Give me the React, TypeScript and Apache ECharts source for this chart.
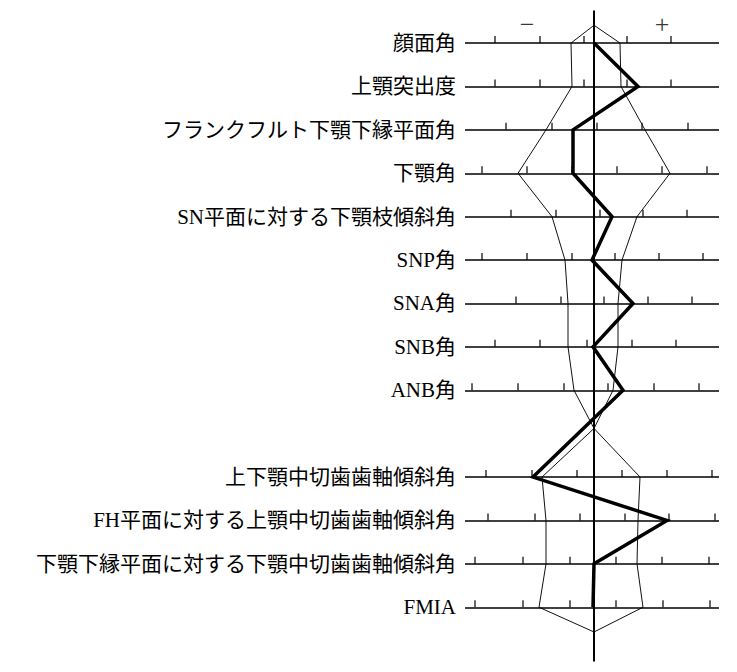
import { useEffect, useRef } from 'react'
import * as echarts from 'echarts'

// variables, top to bottom (one empty slot between ANB角 and 上下顎中切歯歯軸傾斜角)
const LABELS = [
  '顔面角',
  '上顎突出度',
  'フランクフルト下顎下縁平面角',
  '下顎角',
  'SN平面に対する下顎枝傾斜角',
  'SNP角',
  'SNA角',
  'SNB角',
  'ANB角',
  '上下顎中切歯歯軸傾斜角',
  'FH平面に対する上顎中切歯歯軸傾斜角',
  '下顎下縁平面に対する下顎中切歯歯軸傾斜角',
  'FMIA',
]
const ROW_POS = [0, 1, 2, 3, 4, 5, 6, 7, 8, 10, 11, 12, 13]

// norm band (mean ± 1SD), deviation from mean
const NORM_LOW = [-23, -22, -48, -76, -42, -29, -26, -26, -20, -52, -48, -48, -55]
const NORM_HIGH = [26, 27, 51, 76, 43, 28, 24, 24, 19, 46, 44, 43, 49]
const TOP_APEX = -0.41
const MID_CROSS = 8.88
const BOTTOM_APEX = 13.57

// patient
const PATIENT = [0, 44, -21, -21, 18, -2, 39, -1, 29, -61, 73, 0, -1]

// scale ticks on each row
const TICKS = [
  [-99, -54, -10, 33, 77],
  [-99, -54, -10, 33, 77],
  [-88, -42, 3, 48, 94],
  [-112, -67, -22, 23, 68, 113],
  [-83, -38, 6, 49, 93],
  [-112, -67, -22, 21, 65, 109],
  [-78, -33, 10, 54, 98],
  [-99, -54, -7, 38, 82],
  [-122, -76, -30, 14, 60, 105],
  [-108, -62, -17, 28, 73, 118],
  [-106, -59, -14, 31, 75, 121],
  [-119, -71, -24, 22, 68, 115],
  [-119, -71, -24, 22, 69, 116],
]

// direction marks above the chart
const SIGNS = ['−', '+']
const SIGN_X = [-67, 68]
const SIGN_ROW = -0.42

const X_MIN = -129
const X_MAX = 125

function envelope(side: number[]) {
  const pts: number[][] = [[0, TOP_APEX]]
  side.forEach((v, i) => {
    if (ROW_POS[i] === 10) pts.push([0, MID_CROSS])
    pts.push([v, ROW_POS[i]])
  })
  pts.push([0, BOTTOM_APEX])
  return pts
}

const FONT = "'Liberation Serif', 'Noto Sans CJK JP', serif"

export default function App() {
  const ref = useRef<HTMLDivElement>(null)

  useEffect(() => {
    if (!ref.current) return
    const chart = echarts.init(ref.current, undefined, { renderer: 'svg' })
    const tickData: number[][] = []
    TICKS.forEach((row, i) => row.forEach((t) => tickData.push([t, ROW_POS[i]])))

    chart.setOption({
      animation: false,
      backgroundColor: '#fff',
      grid: { left: 465, right: 18, top: 10.5, bottom: 10.5 },
      xAxis: {
        type: 'value', min: X_MIN, max: X_MAX,
        axisLine: { show: false }, axisTick: { show: false },
        axisLabel: { show: false }, splitLine: { show: false },
      },
      yAxis: {
        type: 'value', inverse: true, min: -0.75, max: 14.25,
        axisLine: { show: false }, axisTick: { show: false }, splitLine: { show: false },
        axisLabel: {
          customValues: ROW_POS,
          formatter: (v: number) => LABELS[ROW_POS.indexOf(v)] ?? '',
          color: '#000', fontSize: 21, fontFamily: FONT, margin: 9,
        },
      },
      series: [
        {
          // row lines + centre line
          type: 'line', data: [], silent: true,
          markLine: {
            silent: true, symbol: ['none', 'none'], label: { show: false },
            lineStyle: { color: '#000', width: 1.5, type: 'solid' },
            data: [
              ...ROW_POS.map((p) => ({ yAxis: p })),
              { xAxis: 0, lineStyle: { width: 2 } },
            ],
          },
        },
        {
          type: 'scatter', data: tickData, silent: true,
          symbol: 'rect', symbolSize: [1.5, 7], symbolOffset: [0, -3.5],
          itemStyle: { color: '#000' },
        },
        {
          type: 'scatter', silent: true, symbol: 'circle', symbolSize: 1,
          itemStyle: { color: 'rgba(0,0,0,0)' },
          data: SIGNS.map((s, i) => ({ name: s, value: [SIGN_X[i], SIGN_ROW] })),
          label: {
            show: true, position: 'inside', formatter: '{b}',
            color: '#000', fontSize: 26, fontFamily: FONT,
          },
        },
        {
          type: 'line', data: envelope(NORM_LOW), symbol: 'none', silent: true,
          lineStyle: { color: '#111', width: 1 },
        },
        {
          type: 'line', data: envelope(NORM_HIGH), symbol: 'none', silent: true,
          lineStyle: { color: '#111', width: 1 },
        },
        {
          type: 'line', data: PATIENT.map((v, i) => [v, ROW_POS[i]]), symbol: 'none', silent: true,
          lineStyle: { color: '#000', width: 3.5, join: 'miter' }, z: 5,
        },
      ],
    })
    return () => chart.dispose()
  }, [])

  return <div ref={ref} style={{ position: 'fixed', left: 0, top: 0, width: 737, height: 672 }} />
}
